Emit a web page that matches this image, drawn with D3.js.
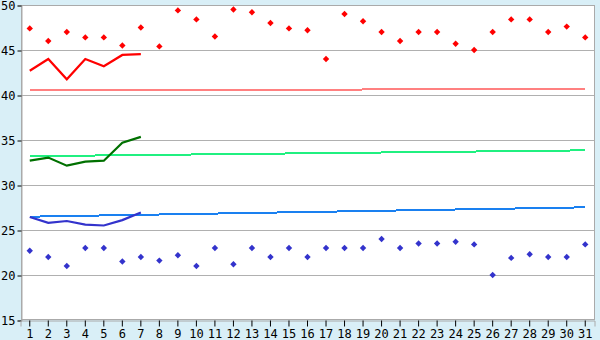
<!DOCTYPE html>
<html>
<head>
<meta charset="utf-8">
<script src="https://cdn.jsdelivr.net/npm/d3@7"></script>
<style>
  html, body { margin: 0; padding: 0; background: #d9eff7; }
  svg { display: block; }
</style>
</head>
<body>
<div id="chart"></div>
<script>
const days = d3.range(1, 32);
const yTicks = [15, 20, 25, 30, 35, 40, 45, 50];

// daily points
const maxTemp = [47.4, 46.0, 47.0, 46.4, 46.4, 45.5, 47.5, 45.4, 49.4, 48.4,
  46.5, 49.5, 49.2, 48.0, 47.4, 47.2, 44.0, 49.0, 48.2, 47.0,
  46.0, 47.0, 47.0, 45.7, 45.0, 47.0, 48.4, 48.4, 47.0, 47.6, 46.4];
const minTemp = [22.7, 22.0, 21.0, 23.0, 23.0, 21.5, 22.0, 21.6, 22.2, 21.0,
  23.0, 21.2, 23.0, 22.0, 23.0, 22.0, 23.0, 23.0, 23.0, 24.0,
  23.0, 23.5, 23.5, 23.7, 23.4, 20.0, 21.9, 22.3, 22.0, 22.0, 23.4];

// first week lines
const redLine = [42.7, 44.0, 41.75, 44.0, 43.2, 44.45, 44.55];
const greenLine = [32.7, 33.05, 32.15, 32.6, 32.7, 34.7, 35.35];
const blueLine = [26.45, 25.8, 26.0, 25.6, 25.5, 26.1, 26.95];

// trend lines: value at day 1 and at day 31
const pinkTrend = [40.55, 40.65];
const greenTrend = [33.2, 33.85];
const blueTrend = [26.48, 27.52];

const width = 600, height = 340;
const margin = { top: 5, right: 5, bottom: 20, left: 21 };

const svg = d3.select("#chart").append("svg")
  .attr("width", width)
  .attr("height", height);

svg.append("rect")
  .attr("width", width).attr("height", height)
  .attr("fill", "#d9eff7");

const x = d3.scaleBand()
  .domain(days)
  .range([margin.left - 0.5, width - margin.right - 0.5]);
const xc = d => x(d) + x.bandwidth() / 2;

const y = d3.scaleLinear()
  .domain([15, 50])
  .range([height - margin.bottom, margin.top]);

// plot area
svg.append("rect")
  .attr("x", margin.left).attr("y", margin.top)
  .attr("width", width - margin.left - margin.right)
  .attr("height", height - margin.top - margin.bottom)
  .attr("fill", "#fff");

// grid
svg.append("g")
  .selectAll("line")
  .data(yTicks.slice(1, -1))
  .join("line")
  .attr("x1", margin.left).attr("x2", width - margin.right)
  .attr("y1", d => Math.round(y(d)) + 0.5).attr("y2", d => Math.round(y(d)) + 0.5)
  .attr("stroke", "#b0b0b0");

svg.append("rect")
  .attr("x", margin.left + 0.5).attr("y", margin.top + 0.5)
  .attr("width", width - margin.left - margin.right - 1)
  .attr("height", height - margin.top - margin.bottom - 1)
  .attr("fill", "none")
  .attr("stroke", "#aaa");

// axes
const font = "'DejaVu Sans Mono', monospace";
const yAxis = svg.append("g")
  .attr("transform", `translate(${margin.left + 0.5},0.5)`)
  .call(d3.axisLeft(y).tickValues(yTicks).tickSize(4).tickPadding(2));
const xAxis = svg.append("g")
  .attr("transform", `translate(0,${height - margin.bottom + 0.5})`)
  .call(d3.axisBottom(x).tickSize(6).tickPadding(3));
[yAxis, xAxis].forEach(g => {
  g.select(".domain").attr("stroke", "#aaa");
  g.selectAll(".tick line").attr("stroke", "#000");
  g.selectAll("text").attr("fill", "#000")
    .style("font-family", font).style("font-size", "12px");
});

// trend lines
const trends = [[pinkTrend, "#ff8080"], [greenTrend, "#20f080"], [blueTrend, "#1a80f0"]];
trends.forEach(([vals, color]) => {
  svg.append("line")
    .attr("x1", xc(1)).attr("x2", xc(31))
    .attr("y1", y(vals[0])).attr("y2", y(vals[1]))
    .attr("stroke", color).attr("stroke-width", 2)
    .attr("shape-rendering", "crispEdges");
});

// week lines
const line = d3.line()
  .x((d, i) => xc(days[i]))
  .y(d => y(d));
[[redLine, "#ff0000"], [greenLine, "#007000"], [blueLine, "#3333cc"]].forEach(([vals, color]) => {
  svg.append("path")
    .attr("d", line(vals))
    .attr("fill", "none")
    .attr("stroke", color)
    .attr("stroke-width", 2.2);
});

// markers
const diamond = d3.symbol().type(d3.symbolDiamond2).size(26);
[[maxTemp, "#ff0000"], [minTemp, "#3333cc"]].forEach(([vals, color]) => {
  svg.append("g")
    .selectAll("path")
    .data(vals)
    .join("path")
    .attr("d", diamond)
    .attr("transform", (d, i) => `translate(${xc(days[i])},${y(d)})`)
    .attr("fill", color);
});
</script>
</body>
</html>
